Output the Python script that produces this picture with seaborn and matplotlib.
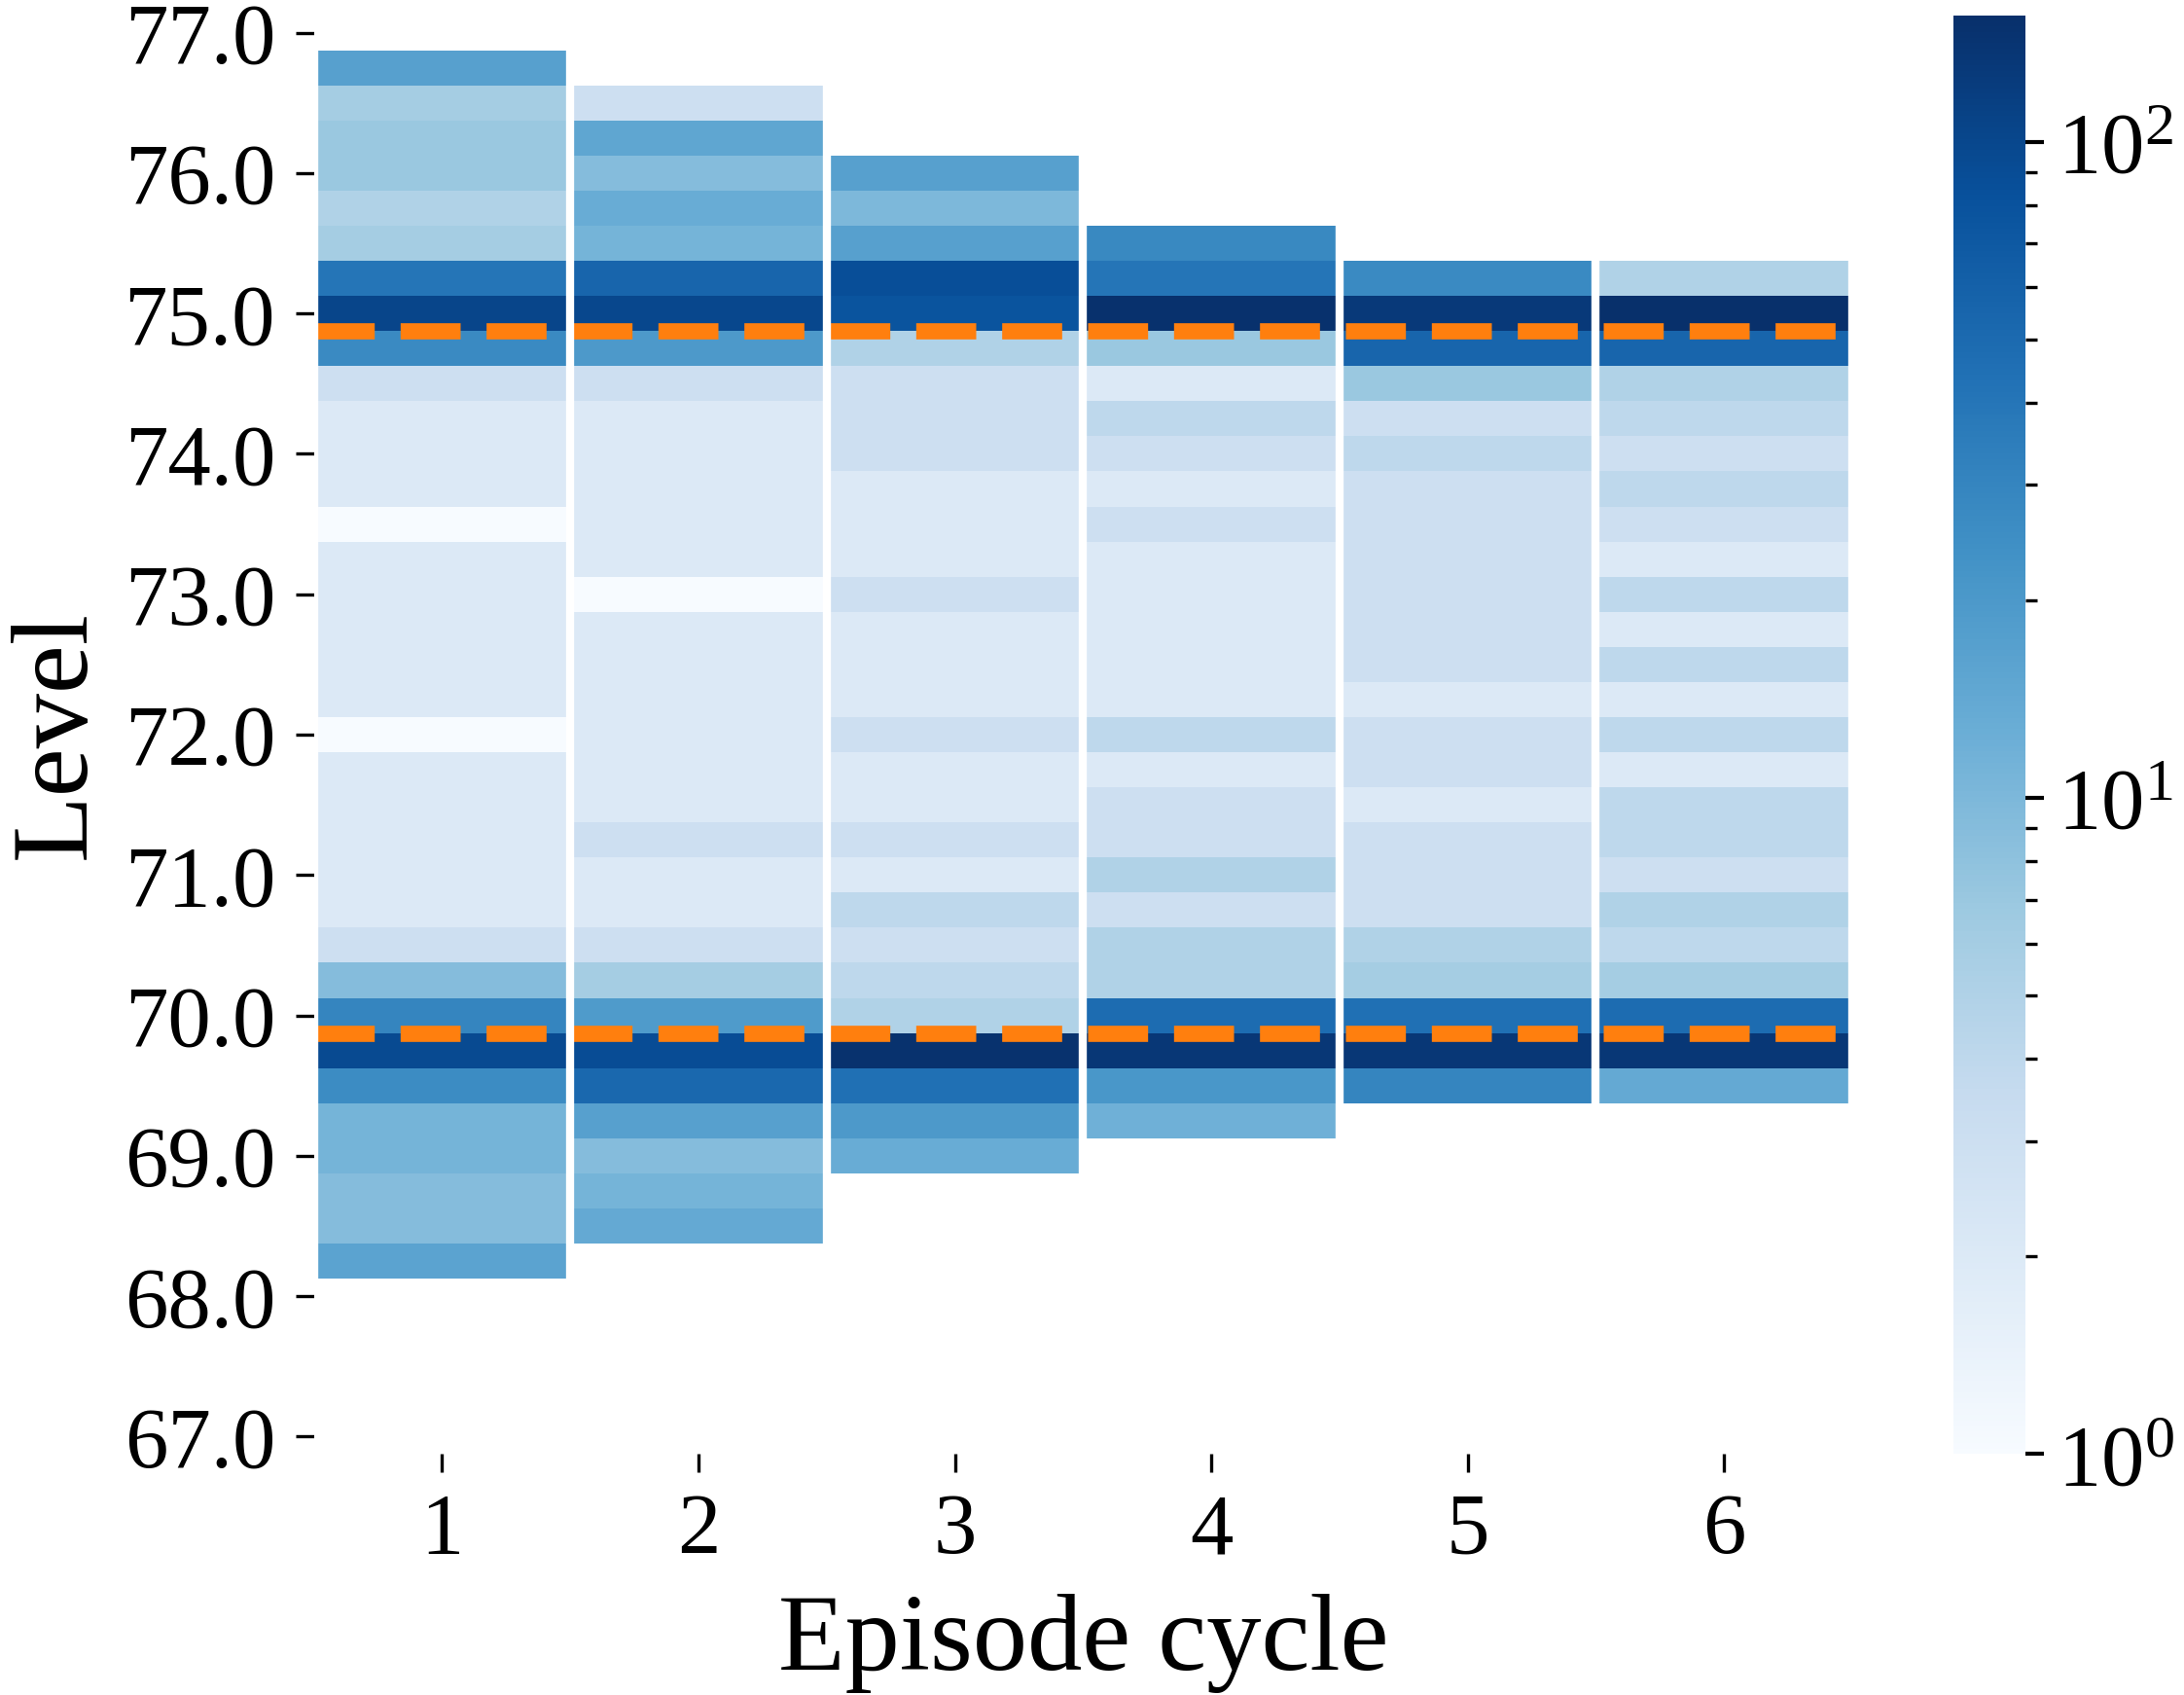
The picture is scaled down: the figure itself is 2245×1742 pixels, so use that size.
import numpy as np
import pandas as pd
import matplotlib
matplotlib.use('Agg')
import matplotlib.pyplot as plt
import seaborn as sns
from matplotlib.colors import LogNorm

sns.set_style('ticks')
plt.rcParams['font.family'] = ['Liberation Serif', 'DejaVu Serif']
plt.rcParams['mathtext.fontset'] = 'custom'
plt.rcParams['mathtext.rm'] = 'Liberation Serif'
plt.rcParams['mathtext.it'] = 'Liberation Serif:italic'
plt.rcParams['mathtext.bf'] = 'Liberation Serif:bold'
for key in ['text.color', 'axes.labelcolor', 'xtick.color', 'ytick.color']:
    plt.rcParams[key] = 'black'

# level bins (bin centres), top row first
levels = np.round(np.arange(77.0, 66.99, -0.25), 2)
cycles = [1, 2, 3, 4, 5, 6]

# highest occupied bin of each cycle; counts listed from there downward
top_level = [76.75, 76.5, 76.0, 75.5, 75.25, 75.25]

counts_c1 = [17, 6, 7, 7, 5, 6, 40, 105, 27, 3,
             2, 2, 2, 1, 2, 2, 2, 2, 2, 1,
             2, 2, 2, 2, 2, 3, 9, 30, 95, 26,
             11, 11, 9, 9, 16]
counts_c2 = [3, 15, 9, 13, 11, 55, 100, 20, 3, 2,
             2, 2, 2, 2, 1, 2, 2, 2, 2, 2,
             2, 3, 2, 2, 3, 6, 19, 90, 52, 17,
             9, 11, 14]
counts_c3 = [17, 10, 17, 88, 78, 5, 3, 3, 3, 2,
             2, 2, 3, 2, 2, 2, 3, 2, 2, 3,
             2, 4, 3, 4, 5, 148, 45, 20, 13]
counts_c4 = [28, 40, 150, 7, 2, 4, 3, 2, 3, 2,
             2, 2, 2, 2, 4, 2, 3, 3, 5, 3,
             5, 5, 48, 135, 21, 12]
counts_c5 = [27, 130, 55, 7, 3, 4, 3, 3, 3, 3,
             3, 3, 2, 3, 3, 2, 3, 3, 3, 5,
             6, 45, 135, 30]
counts_c6 = [5, 156, 55, 5, 4, 3, 4, 3, 2, 4,
             2, 4, 2, 4, 2, 4, 4, 3, 5, 4,
             6, 48, 135, 14]

# reference levels (dashed orange)
ref_levels = [74.875, 69.875]

all_counts = [counts_c1, counts_c2, counts_c3, counts_c4, counts_c5, counts_c6]
grid = pd.DataFrame(np.nan, index=levels, columns=cycles)
for j, (top, cnt) in enumerate(zip(top_level, all_counts)):
    start = list(levels).index(top)
    grid.iloc[start:start + len(cnt), j] = cnt

fig = plt.figure(figsize=(2245 / 300, 1742 / 300), dpi=300)
ax = fig.add_axes([0.1437, 0.1421, 0.7044, 0.849])
cax = fig.add_axes([0.8944, 0.1421, 0.033, 0.849])

sns.heatmap(grid, ax=ax, cbar_ax=cax, cmap='Blues', norm=LogNorm(),
            xticklabels=cycles, yticklabels=False)

tick_idx = list(range(0, len(levels), 4))
ax.set_yticks([i + 0.5 for i in tick_idx])
ax.set_yticklabels([f'{levels[i]:.1f}' for i in tick_idx], rotation=0,
                   va='center_baseline')

step = levels[0] - levels[1]
for lv in ref_levels:
    ax.axhline((levels[0] - lv) / step + 0.5, color='#ff7f0e', lw=4, ls='--', zorder=3)

# white gaps between the cycles
for x in range(len(cycles) + 1):
    ax.axvline(x, color='white', lw=2, zorder=4)

ax.tick_params(axis='both', labelsize=21.3, length=4.5, width=0.8, pad=5)
ax.set_xlabel('Episode cycle', fontsize=27, labelpad=5.5)
ax.set_ylabel('Level', fontsize=27, labelpad=4)

cax.tick_params(which='major', labelsize=21.3, length=4.5, width=1.0, pad=3.5)
cax.tick_params(which='minor', length=2.8, width=0.8)

fig.savefig('out.png', dpi=300)
